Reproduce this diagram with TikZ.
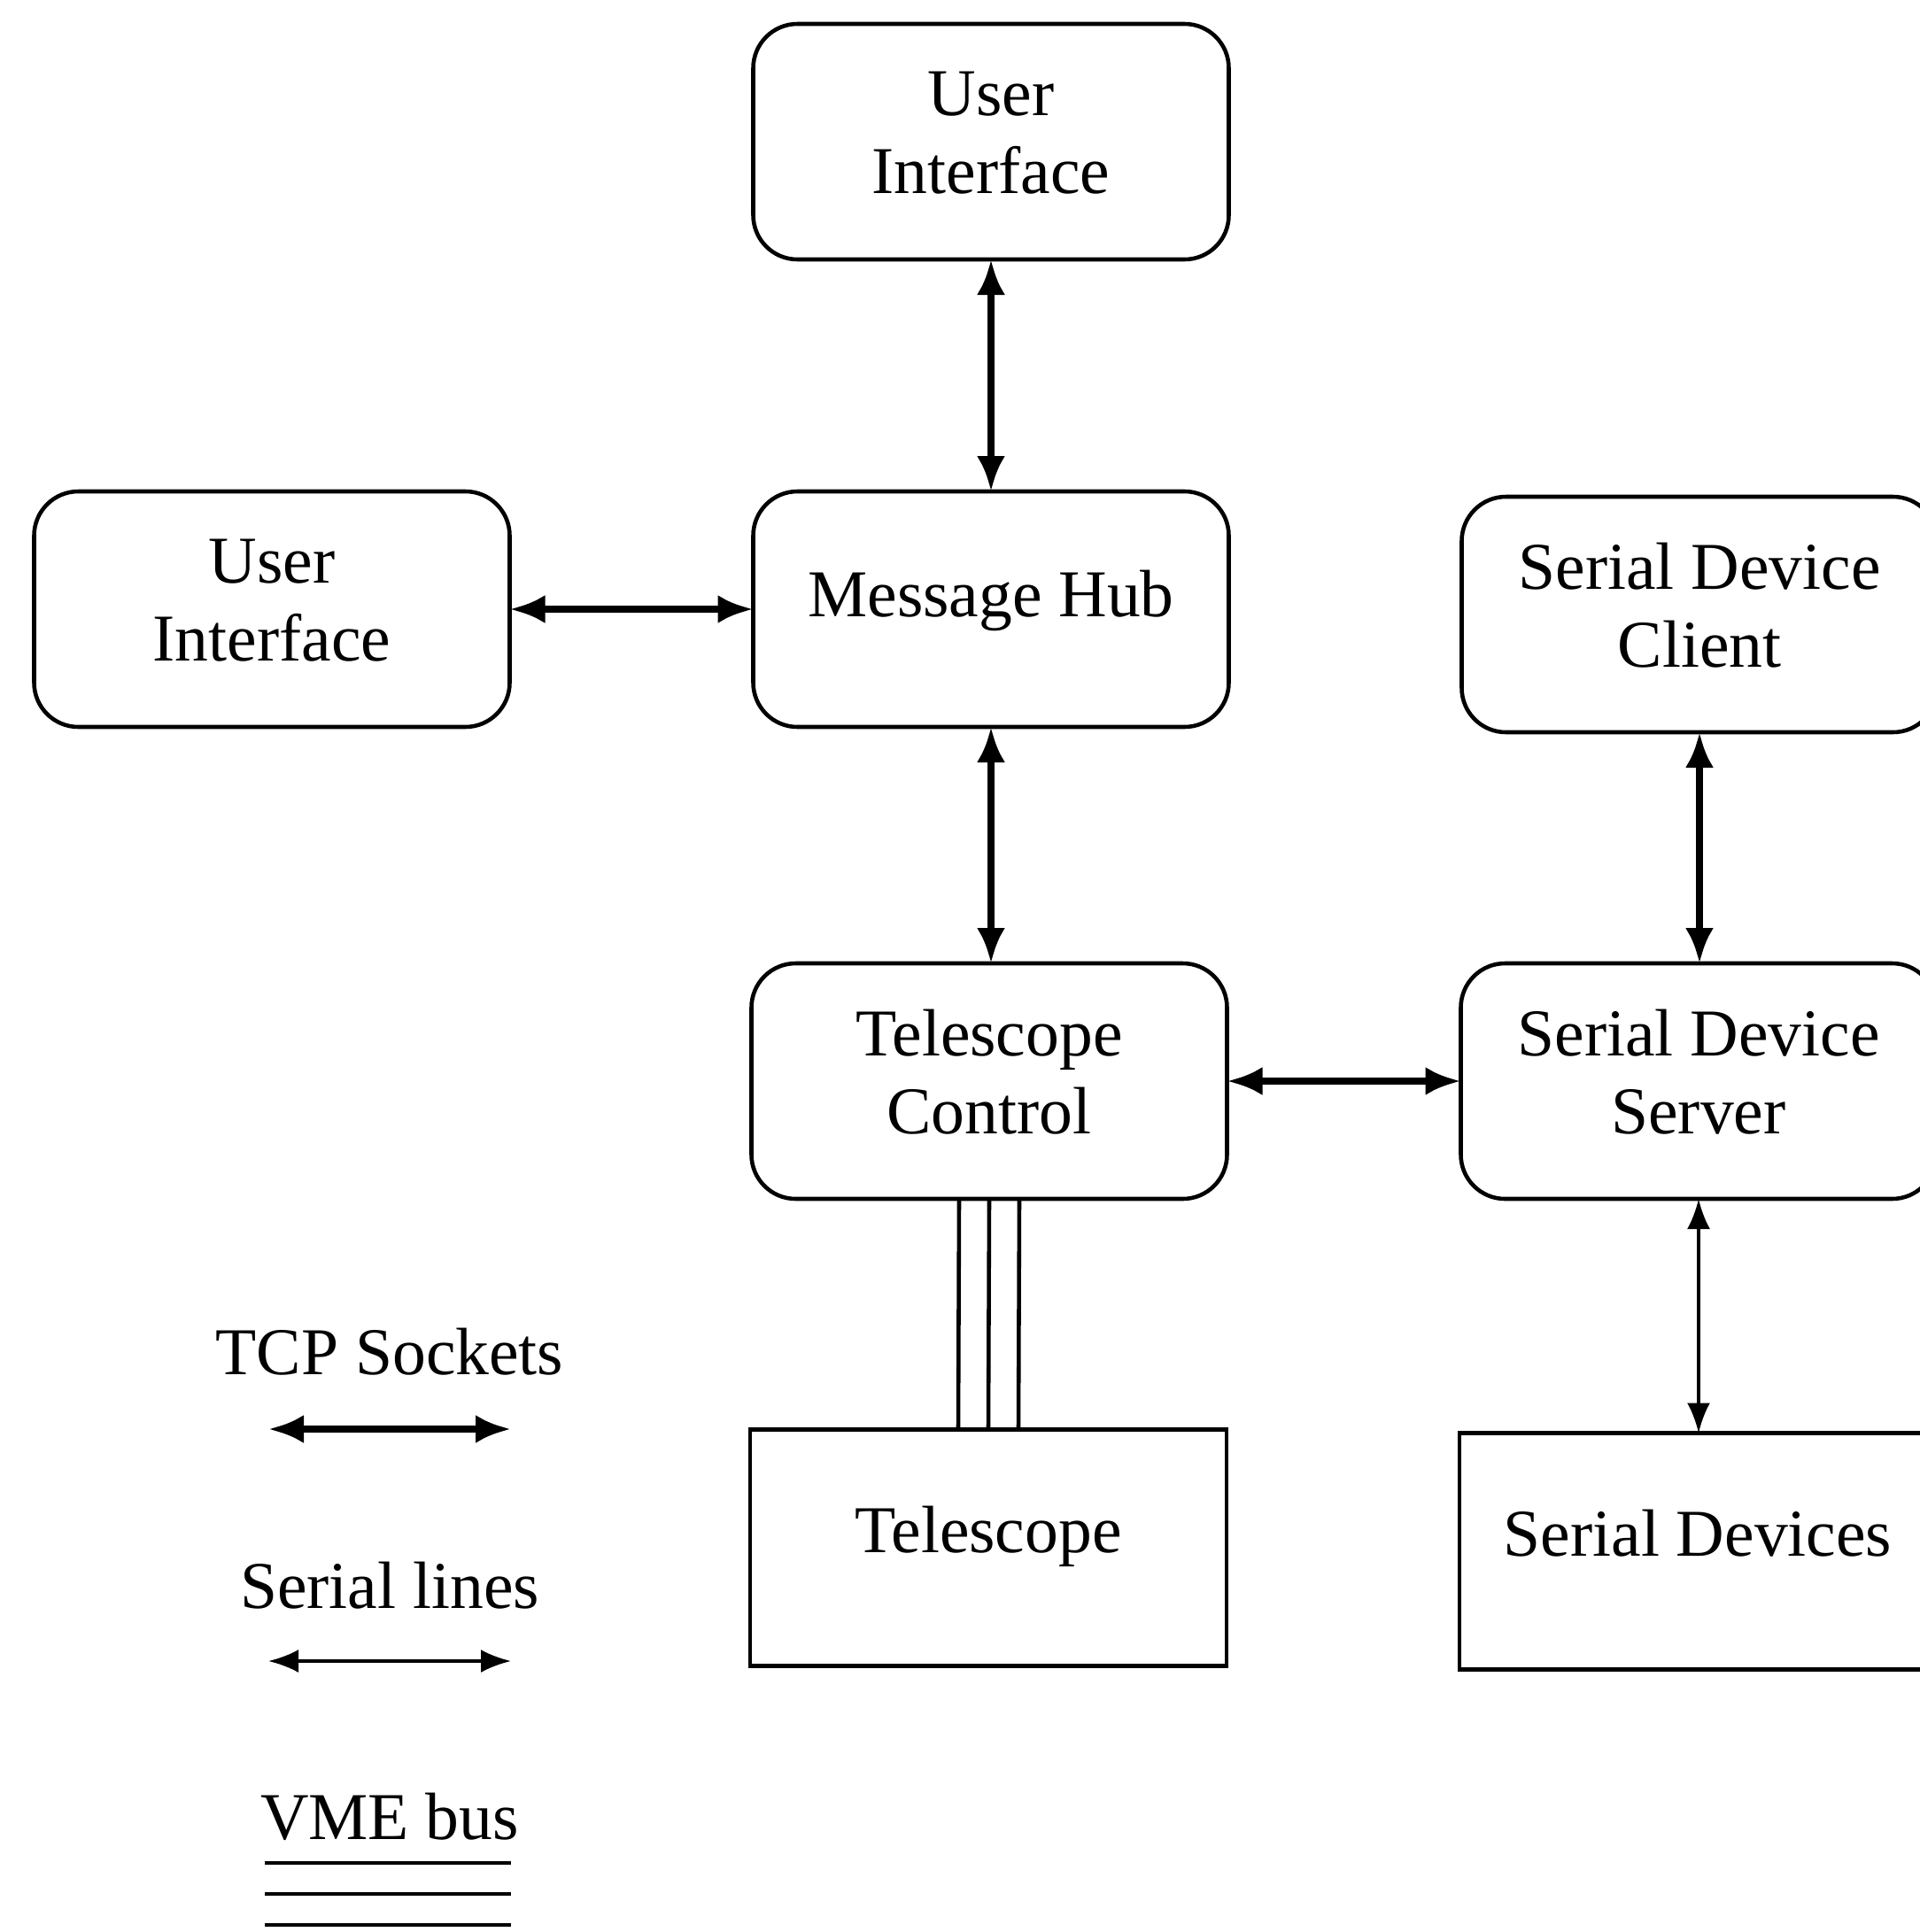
\documentclass[tikz,border=0pt]{standalone}
\usepackage{fontspec}
\setmainfont{Liberation Serif}
\usetikzlibrary{arrows.meta}

\begin{document}
\begin{tikzpicture}[font=\fontsize{21.5}{25}\selectfont,
		unit/.style={draw,line width=1.3pt,outer sep=0pt,rounded corners=0.5cm,minimum width=5.37cm,minimum height=2.66cm,
			label={[align=center,yshift=0.1cm]center:#1}},
		device/.style={draw,line width=1.4pt,outer sep=0pt,minimum width=5.38cm,minimum height=2.67cm,text height=0.5cm,text depth=0.39cm},
		tcp/.style={line width=2.3pt,arrows={Latex[length=0.4cm,width=0.32cm]-Latex[length=0.4cm,width=0.32cm]}},
		serial/.style={line width=1.1pt,arrows={Latex[length=0.34cm,width=0.26cm]-Latex[length=0.34cm,width=0.26cm]}},
		vme/.style={line width=1.3pt}]
			\useasboundingbox (0,0) rectangle (21.68,-21.82);
			\clip (0,0) rectangle (21.68,-21.82);
			\node[unit={User\\Interface}] (ui1) at (11.19,-1.6) {};
			\node[unit={User\\Interface}] (ui2) at (3.07,-6.88) {};
			\node[unit={Message Hub}] (hub) at (11.19,-6.88) {};
			\node[unit={Serial Device\\Client}] (sdc) at (19.19,-6.94) {};
			\node[unit={Telescope\\Control}] (tc) at (11.17,-12.21) {};
			\node[unit={Serial Device\\Server}] (sds) at (19.18,-12.21) {};
			\node[device] (tel) at (11.16,-17.48) {Telescope};
			\node[device] (sdev) at (19.17,-17.52) {Serial Devices};
			\draw[tcp] (ui1) -- (hub);
			\draw[tcp] (ui2) -- (hub);
			\draw[tcp] (hub.south) -- (hub.south |- tc.north);
			\draw[tcp] (tc) -- (sds);
			\draw[tcp] (sdc.south) -- (sdc.south |- sds.north);
			\draw[serial] (sds.south) -- (sds.south |- sdev.north);
			\foreach \dx in {-0.34,0,0.34}
				\draw[vme] ([xshift=\dx cm]tc.south) -- ([xshift=\dx cm]tel.north);
			% legend
			\node (tcplab) at (4.4,-15.27) {TCP Sockets};
			\coordinate (tcpa) at (3.03,-16.14);
			\coordinate (tcpb) at (5.77,-16.14);
			\draw[tcp] (tcpa) -- (tcpb);
			\node (serlab) at (4.4,-17.91) {Serial lines};
			\coordinate (sera) at (3.03,-18.76);
			\coordinate (serb) at (5.77,-18.76);
			\draw[serial] (sera) -- (serb);
			\node (vmelab) at (4.4,-20.52) {VME bus};
			\foreach \y in {-21.04,-21.39,-21.74}
				\draw[vme] (2.99,\y) -- (5.77,\y);
		\end{tikzpicture}
\end{document}
